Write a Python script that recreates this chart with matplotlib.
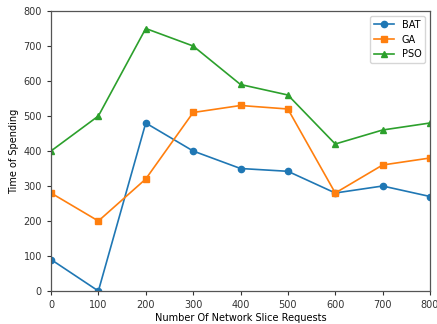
import matplotlib

matplotlib.use("Agg")

import matplotlib.pyplot as plt

plt.rcParams["font.family"] = "DejaVu Sans"

requests = [0, 100, 200, 300, 400, 500, 600, 700, 800]
bat = [90, 0, 480, 400, 350, 342, 280, 300, 270]
ga = [280, 200, 320, 510, 530, 520, 280, 360, 380]
pso = [400, 500, 750, 700, 590, 560, 420, 460, 480]

fig = plt.figure(figsize=(4.37, 3.24), dpi=100)
ax = fig.add_axes([51 / 437, 1 - 291 / 324, 379 / 437, 280 / 324])

ax.plot(requests, bat, "-o", color="#1f77b4", lw=1.2, ms=4.5, label="BAT")
ax.plot(requests, ga, "-s", color="#ff7f0e", lw=1.2, ms=4.5, label="GA")
ax.plot(requests, pso, "-^", color="#2ca02c", lw=1.2, ms=4.5, label="PSO")

ax.set_xlim(0, 800)
ax.set_ylim(0, 800)
ax.set_xticks(range(0, 801, 100))
ax.set_yticks(range(0, 801, 100))
ax.tick_params(labelsize=7, length=3, width=0.8, colors="#333333")
ax.set_xlabel("Number Of Network Slice Requests", fontsize=7, labelpad=2)
ax.set_ylabel("Time of Spending", fontsize=7, labelpad=3)
for s in ax.spines.values():
    s.set_color("#555555")
    s.set_linewidth(0.9)

ax.legend(loc="upper right", fontsize=7, handlelength=2.0, labelspacing=0.5)

fig.savefig("out.png", dpi=100)
